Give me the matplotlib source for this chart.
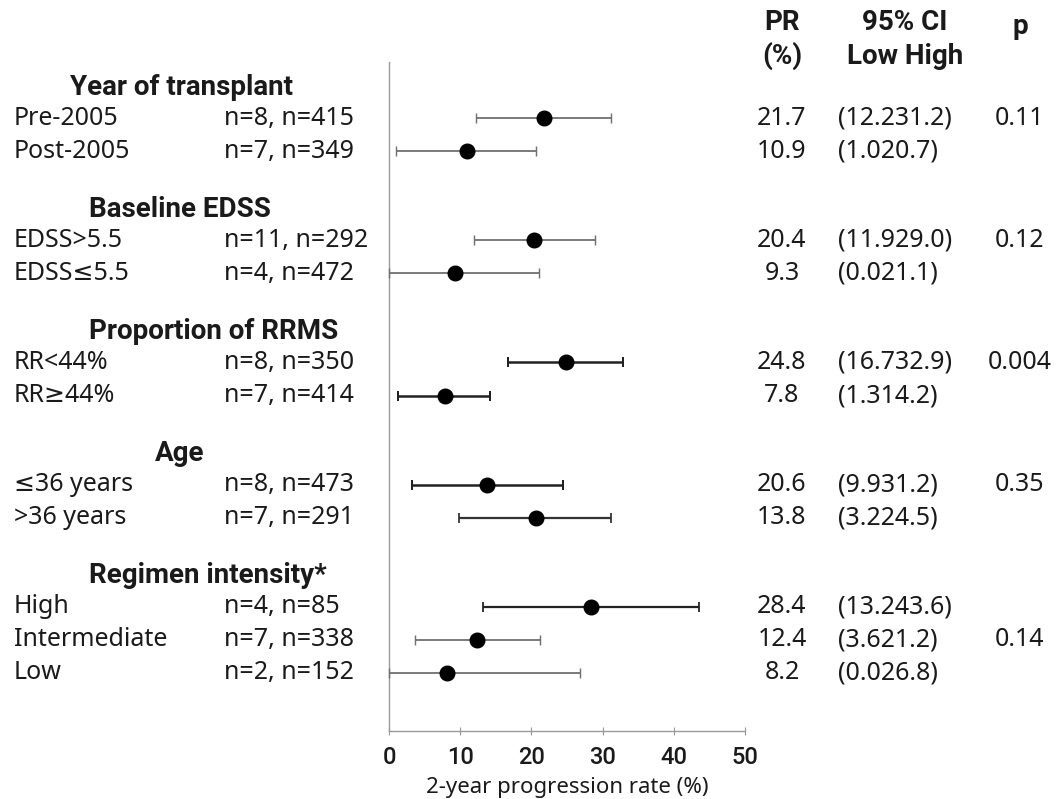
import matplotlib.pyplot as plt
from matplotlib.transforms import blended_transform_factory

plt.rcParams['font.family'] = ['Noto Sans', 'DejaVu Sans']

# Data
groups = ["Year of transplant", "Baseline EDSS", "Proportion of RRMS", "Age", "Regimen intensity*"]
group_sizes = [2, 2, 2, 2, 3]
row_labels = ["Pre-2005", "Post-2005", "EDSS>5.5", "EDSS≤5.5", "RR<44%", "RR≥44%",
              "≤36 years", ">36 years", "High", "Intermediate", "Low"]
n_labels = ["n=8, n=415", "n=7, n=349", "n=11, n=292", "n=4, n=472", "n=8, n=350", "n=7, n=414",
            "n=8, n=473", "n=7, n=291", "n=4, n=85", "n=7, n=338", "n=2, n=152"]
point_est = [21.7, 10.9, 20.4, 9.3, 24.8, 7.8, 13.8, 20.6, 28.4, 12.4, 8.2]
ci_low = [12.2, 1.0, 11.9, 0.0, 16.7, 1.3, 3.2, 9.9, 13.2, 3.6, 0.0]
ci_high = [31.2, 20.7, 29.0, 21.1, 32.9, 14.2, 24.5, 31.2, 43.6, 21.2, 26.8]
pr_text = ["21.7", "10.9", "20.4", "9.3", "24.8", "7.8", "20.6", "13.8", "28.4", "12.4", "8.2"]
ci_text = ["(12.231.2)", "(1.020.7)", "(11.929.0)", "(0.021.1)", "(16.732.9)", "(1.314.2)",
           "(9.931.2)", "(3.224.5)", "(13.243.6)", "(3.621.2)", "(0.026.8)"]
p_text = ["0.11", "", "0.12", "", "0.004", "", "0.35", "", "", "0.14", ""]
x_ticks = [0, 10, 20, 30, 40, 50]

# line colour / width for each CI bar
bar_colors = ["#707070", "#707070", "#707070", "#707070", "#222222", "#222222",
              "#222222", "#333333", "#222222", "#707070", "#707070"]
bar_widths = [1.3, 1.3, 1.3, 1.3, 1.8, 1.8, 1.8, 1.6, 1.6, 1.3, 1.3]
header_x_px = [70, 89, 89, 155, 89]

W, H = 1063, 799
TXT = "#1a1a1a"
FS = 18
BOLD = ['Roboto', 'DejaVu Sans']

# vertical layout in row units
header_y, row_y = [], []
y = 0.0
for size in group_sizes:
    header_y.append(y)
    y += 0.94
    for i in range(size):
        row_y.append(y)
        y += 1
    y += 0.76

fig = plt.figure(figsize=(W / 100, H / 100), dpi=100)
ax = fig.add_axes([389 / W, 1 - 731 / H, (745 - 389) / W, (731 - 62) / H])

for i in range(len(row_y)):
    ax.errorbar(point_est[i], row_y[i],
                xerr=[[point_est[i] - ci_low[i]], [ci_high[i] - point_est[i]]],
                fmt="o", color="black", ms=10.5, ecolor=bar_colors[i],
                elinewidth=bar_widths[i], capsize=3.6, capthick=bar_widths[i] * 0.8,
                clip_on=False, zorder=3)

ax.set_xlim(0, 50)
ax.set_ylim(19.5, -0.76)
ax.set_xticks(x_ticks)
ax.set_yticks([])
for s in ["top", "right"]:
    ax.spines[s].set_visible(False)
for s in ["left", "bottom"]:
    ax.spines[s].set_color("#999999")
    ax.spines[s].set_linewidth(1)
ax.tick_params(axis="x", direction="inout", length=6, color="#999999",
               labelsize=17, labelcolor=TXT, pad=8)
for lab in ax.get_xticklabels():
    lab.set_fontfamily(BOLD)
    lab.set_fontweight("medium")
fig.text(567 / W, 1 - 787 / H, "2-year progression rate (%)", ha="center", va="center",
         fontsize=16, color=TXT)

tr = blended_transform_factory(fig.transFigure, ax.transData)

# left-hand labels
for g, hy, hx in zip(groups, header_y, header_x_px):
    ax.text(hx / W, hy, g, transform=tr, ha="left", va="center", family=BOLD,
            fontsize=20, fontweight="bold", color=TXT, clip_on=False)
for i, ry in enumerate(row_y):
    ax.text(14 / W, ry, row_labels[i], transform=tr, ha="left", va="center",
            fontsize=FS, color=TXT, clip_on=False)
    ax.text(224 / W, ry, n_labels[i], transform=tr, ha="left", va="center",
            fontsize=FS, color=TXT, clip_on=False)
    ax.text(782 / W, ry, pr_text[i], transform=tr, ha="center", va="center",
            fontsize=FS, color=TXT, clip_on=False)
    ax.text(838 / W, ry, ci_text[i], transform=tr, ha="left", va="center",
            fontsize=FS, color=TXT, clip_on=False)
    if p_text[i]:
        ax.text(1020 / W, ry, p_text[i], transform=tr, ha="center", va="center",
                fontsize=FS, color=TXT, clip_on=False)

# column headers
hdr = dict(ha="center", va="center", fontsize=20, fontweight="bold", color=TXT, family=BOLD)
fig.text(782 / W, 1 - 23 / H, "PR", **hdr)
fig.text(782 / W, 1 - 56 / H, "(%)", **hdr)
fig.text(905 / W, 1 - 23 / H, "95% CI", **hdr)
fig.text(905 / W, 1 - 56 / H, "Low High", **hdr)
fig.text(1020 / W, 1 - 26 / H, "p", **hdr)

fig.savefig("out.png", dpi=100, facecolor="white")
